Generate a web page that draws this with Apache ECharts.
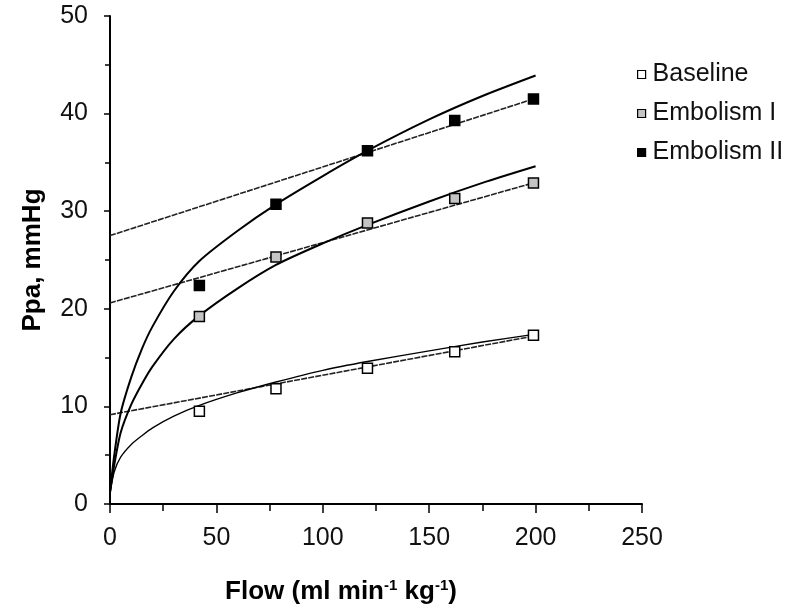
<!DOCTYPE html>
<html>
<head>
<meta charset="utf-8">
<script src="https://cdn.jsdelivr.net/npm/echarts@6/dist/echarts.min.js"></script>
<style>
html,body{margin:0;padding:0;background:#fff;}
#chart{width:800px;height:616px;}
</style>
</head>
<body>
<div id="chart"></div>
<script>
// Measured points
var flow = [42, 78, 121, 162, 199];
var baseline = [9.5, 11.8, 13.9, 15.6, 17.3];
var embolismI = [19.2, 25.3, 28.8, 31.3, 32.9];
var embolismII = [22.4, 30.7, 36.2, 39.3, 41.5];

// Fitted curves
var curveX = [0, 2, 5, 10, 15, 20, 30, 42, 60, 78, 100, 121, 150, 175, 200];
var baselineCurve = [1.1, 3.3, 4.8, 6.1, 7.0, 7.8, 9.0, 10.1, 11.4, 12.5, 13.7, 14.6, 15.7, 16.6, 17.4];
var embolismICurve = [1.2, 4.0, 7.3, 10.2, 12.3, 14.1, 16.9, 19.3, 22.1, 24.5, 26.7, 28.6, 31.0, 32.9, 34.6];
var embolismIICurve = [1.2, 5.0, 9.3, 13.0, 15.9, 18.2, 21.8, 24.9, 28.0, 30.7, 33.6, 36.2, 39.4, 41.8, 43.9];

// Linear fits (end points)
var lineX = [0, 199];
var baselineLine = [9.15, 17.2];
var embolismILine = [20.6, 32.9];
var embolismIILine = [27.5, 41.5];

var seriesNames = ['Baseline', 'Embolism I', 'Embolism II'];
var fills = ['#ffffff', '#c4c4c4', '#000000'];

function pairs(xs, ys) { return xs.map(function (x, i) { return [x, ys[i]]; }); }

var FONT = '"Liberation Sans", Arial, sans-serif';

var curves = [baselineCurve, embolismICurve, embolismIICurve];
var lines = [baselineLine, embolismILine, embolismIILine];
var points = [baseline, embolismI, embolismII];

var series = [];
lines.forEach(function (l) {
  series.push({
    type: 'line', data: pairs(lineX, l), symbol: 'none', silent: true,
    lineStyle: { color: '#222', width: 1.6, type: [6, 1.2] }, z: 2
  });
});
curves.forEach(function (c, i) {
  series.push({
    type: 'line', data: pairs(curveX, c), symbol: 'none', smooth: 0.25, silent: true,
    lineStyle: { color: '#000', width: i === 0 ? 1.3 : 2 }, z: 3
  });
});
points.forEach(function (p, i) {
  series.push({
    name: seriesNames[i], type: 'scatter', data: pairs(flow, p), symbol: 'rect', symbolSize: 10,
    itemStyle: { color: fills[i], borderColor: '#000', borderWidth: 1.5, opacity: 1 }, z: 5
  });
});

var chart = echarts.init(document.getElementById('chart'));
chart.setOption({
  animation: false,
  backgroundColor: '#fff',
  grid: { left: 110, right: 158, top: 16, bottom: 112 },
  legend: {
    orient: 'vertical', left: 632, top: 57, itemWidth: 8, itemHeight: 8, itemGap: 14,
    icon: 'rect',
    textStyle: { fontFamily: FONT, fontSize: 25, color: '#111', padding: [0, 0, 0, 2] },
    data: seriesNames.map(function (n, i) {
      return { name: n, itemStyle: { color: fills[i], borderColor: '#000', borderWidth: 1.2 } };
    })
  },
  xAxis: {
    type: 'value', min: 0, max: 250, interval: 50,
    name: '{a|Flow (ml min}{s|-1}{a| kg}{s|-1}{a|)}',
    nameLocation: 'middle', nameGap: 74,
    nameTextStyle: {
      padding: [0, 70, 0, 0],
      rich: {
        a: { fontFamily: FONT, fontSize: 26, fontWeight: 'bold', color: '#000' },
        s: { fontFamily: FONT, fontSize: 15, fontWeight: 'bold', color: '#000', padding: [0, 0, 12, 0] }
      }
    },
    axisLine: { onZero: false, lineStyle: { color: '#000', width: 2 } },
    axisTick: { inside: false, length: 9, lineStyle: { color: '#000', width: 1.5 } },
    minorTick: { show: true, splitNumber: 2, length: 7, lineStyle: { color: '#000', width: 1.5 } },
    axisLabel: { fontFamily: FONT, fontSize: 25, color: '#111', margin: 22 },
    splitLine: { show: false }
  },
  yAxis: {
    type: 'value', min: 0, max: 50, interval: 10,
    name: 'Ppa, mmHg', nameLocation: 'middle', nameGap: 64, nameRotate: 90,
    nameTextStyle: { fontFamily: FONT, fontSize: 26, fontWeight: 'bold', color: '#000' },
    axisLine: { show: true, onZero: false, lineStyle: { color: '#000', width: 2 } },
    axisTick: { show: true, inside: false, length: 6, lineStyle: { color: '#000', width: 1.5 } },
    minorTick: { show: true, splitNumber: 2, length: 5, lineStyle: { color: '#000', width: 1.5 } },
    axisLabel: { fontFamily: FONT, fontSize: 25, color: '#111', margin: 22 },
    splitLine: { show: false }
  },
  series: series
});
</script>
</body>
</html>
